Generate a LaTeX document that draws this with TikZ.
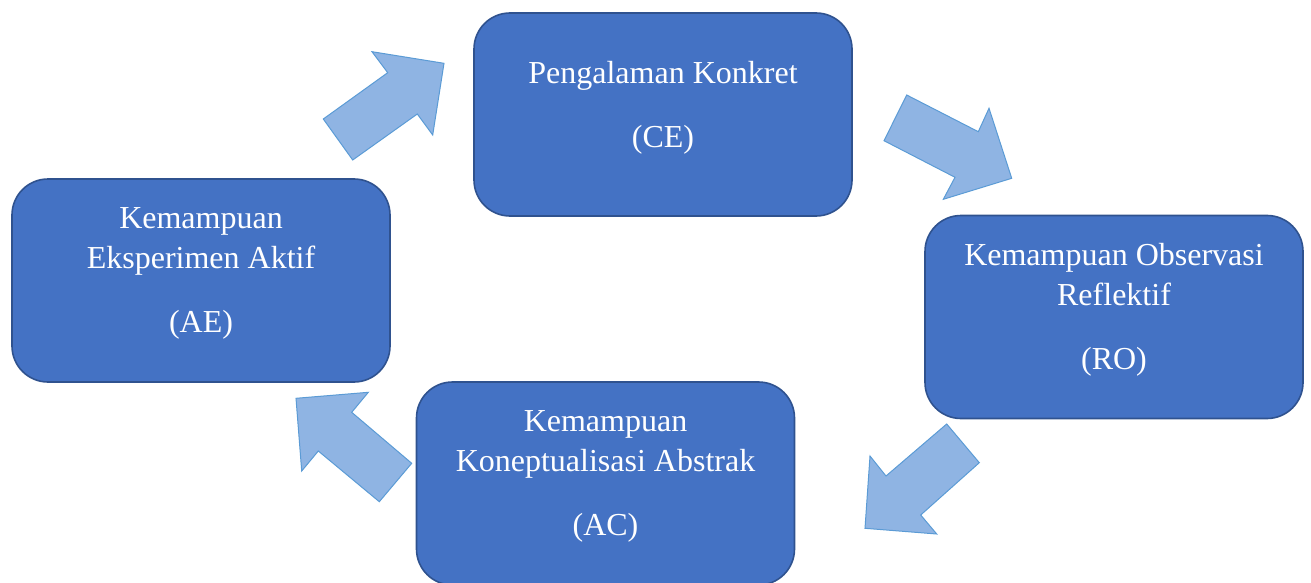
\documentclass[tikz,border=0pt]{standalone}
\usepackage{fontspec}
\setmainfont{Liberation Serif}
\usetikzlibrary{positioning}
\definecolor{boxblue}{RGB}{68,114,196}
\definecolor{boxedge}{RGB}{47,82,143}
\definecolor{arrfill}{RGB}{143,180,227}
\definecolor{arredge}{RGB}{91,155,213}
\tikzset{
  stage/.style={rectangle, draw=boxedge, fill=boxblue,
    minimum width=189pt, minimum height=101.5pt,
    rounded corners=18pt, line width=0.8pt},
  stagetext/.style={text=white, align=center,
    font=\fontsize{16}{20}\selectfont, yshift=3.5pt},
  blockarrow/.style={draw=arredge, fill=arrfill, line width=0.5pt}
}

\begin{document}
\begin{tikzpicture}[x=0.5pt, y=-0.5pt]
  \useasboundingbox (0,0) rectangle (1311,583);

  % Stages
  \node[stage] (ce) at (663, 114.5) {};
  \node[stage] (ro) at (1114, 317) {};
  \node[stage] (ac) at (605.5, 483.5) {};
  \node[stage] (ae) at (201, 280.5) {};

  \node[stagetext] (cetext) at (ce) {Pengalaman Konkret\\[12pt](CE)};
  \node[stagetext] (rotext) at (ro) {Kemampuan Observasi\\Reflektif\\[12pt](RO)};
  \node[stagetext] (actext) at (ac) {Kemampuan\\Koneptualisasi Abstrak\\[12pt](AC)};
  \node[stagetext] (aetext) at (ae) {Kemampuan\\Eksperimen Aktif\\[12pt](AE)};

  % Arrows
  \draw[blockarrow] (323.3,119) -- (352.7,160) -- (417.3,114) -- (432.7,135)
    -- (444,63.3) -- (372,51.7) -- (387.7,72.7) -- cycle;
  \draw[blockarrow] (906.7,95) -- (884,140.7) -- (955,177.3) -- (943.3,199.3)
    -- (1011.7,178.3) -- (989,108.3) -- (978.3,131.7) -- cycle;
  \draw[blockarrow] (946.7,424) -- (979.3,462.7) -- (920.7,515) -- (936.7,534)
    -- (865,528.3) -- (870,456) -- (886,476) -- cycle;
  \draw[blockarrow] (411.7,463.3) -- (379.3,501.7) -- (318.3,451) -- (301.7,471)
    -- (296,398.3) -- (368.3,392.3) -- (351.7,412.3) -- cycle;
\end{tikzpicture}
\end{document}
